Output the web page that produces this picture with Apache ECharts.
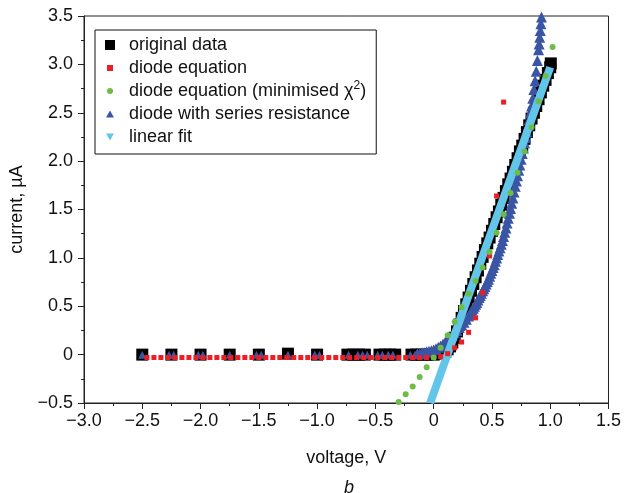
<!DOCTYPE html>
<html><head><meta charset="utf-8">
<script src="https://cdn.jsdelivr.net/npm/echarts@6/dist/echarts.min.js"></script>
<style>html,body{margin:0;padding:0;background:#fff}#c{width:624px;height:493px}</style>
</head><body><div id="c"></div>
<script>
// ---------- data ----------
const seriesNames = ['original data', 'diode equation', 'diode equation (minimised \u03c72)', 'diode with series resistance', 'linear fit'];

const xTickLabels = ['\u22123.0', '\u22122.5', '\u22122.0', '\u22121.5', '\u22121.0', '\u22120.5', '0', '0.5', '1.0', '1.5'];
const yTickLabels = ['\u22120.5', '0', '0.5', '1.0', '1.5', '2.0', '2.5', '3.0', '3.5'];

// original data (black squares)
const origV = [-2.5, -2.25, -2.0, -1.75, -1.5, -1.25, -1.0,
  -0.74, -0.69, -0.64, -0.59, -0.465, -0.42, -0.375, -0.33,
  -0.19, -0.15, -0.1, -0.05, 0, 0.05,
  0.10, 0.12, 0.14, 0.16, 0.18, 0.20, 0.22, 0.24, 0.26, 0.28, 0.30, 0.32, 0.34, 0.36, 0.38, 0.40,
  0.42, 0.44, 0.46, 0.48, 0.50, 0.52, 0.54, 0.56, 0.58, 0.60, 0.62, 0.64, 0.66, 0.68, 0.70, 0.72,
  0.74, 0.76, 0.78, 0.80, 0.82, 0.84, 0.86, 0.88, 0.90, 0.92, 0.94, 0.96, 0.98, 1.00, 1.005];
const origI = [0, 0, 0, 0, 0, 0.01, 0,
  0, 0, 0, 0, 0, 0, 0, 0,
  0, 0, 0, 0, 0, 0.01,
  0.03, 0.055, 0.085, 0.125, 0.175, 0.24, 0.31, 0.38, 0.45, 0.52, 0.59, 0.66, 0.73, 0.8, 0.87, 0.94,
  1.01, 1.08, 1.15, 1.21, 1.28, 1.35, 1.42, 1.48, 1.55, 1.62, 1.69, 1.76, 1.82, 1.89, 1.96, 2.03,
  2.1, 2.16, 2.23, 2.3, 2.37, 2.44, 2.5, 2.57, 2.64, 2.71, 2.78, 2.84, 2.91, 2.97, 3.01];

// diode equation (red squares)
const diodeV = [-2.46, -2.40, -2.34, -2.28, -2.22, -2.16, -2.10, -2.04, -1.98, -1.92, -1.86, -1.80, -1.74,
  -1.68, -1.62, -1.56, -1.50, -1.44, -1.38, -1.32, -1.26, -1.20, -1.14, -1.08, -1.02, -0.96, -0.90,
  -0.84, -0.78, -0.72, -0.66, -0.60, -0.54, -0.48, -0.42, -0.36, -0.30, -0.24, -0.18, -0.12, -0.06,
  0.00, 0.06, 0.12, 0.18, 0.24, 0.30, 0.36, 0.42, 0.48, 0.54, 0.60];
const diodeI = [-0.03, -0.03, -0.03, -0.03, -0.03, -0.03, -0.03, -0.03, -0.03, -0.03, -0.03, -0.03, -0.03,
  -0.03, -0.03, -0.03, -0.03, -0.03, -0.03, -0.03, -0.03, -0.03, -0.03, -0.03, -0.03, -0.03, -0.03,
  -0.03, -0.03, -0.03, -0.03, -0.03, -0.03, -0.03, -0.03, -0.03, -0.03, -0.03, -0.03, -0.03, -0.03,
  -0.03, -0.02, 0.01, 0.07, 0.13, 0.23, 0.38, 0.64, 1.02, 1.64, 2.61];

// diode equation, minimised chi^2 (green circles)
const chiV = [-0.30, -0.24, -0.18, -0.12, -0.06, 0.00, 0.06, 0.12, 0.18, 0.24, 0.30, 0.36,
  0.42, 0.48, 0.54, 0.60, 0.66, 0.72, 0.78, 0.84, 0.90, 0.96, 1.02];
const chiI = [-0.49, -0.41, -0.33, -0.23, -0.13, -0.03, 0.07, 0.2, 0.34, 0.49, 0.63, 0.76,
  0.9, 1.06, 1.26, 1.45, 1.67, 1.88, 2.1, 2.35, 2.62, 2.88, 3.18];

// diode with series resistance (blue triangles)
const seriesV = [-2.5, -2.27, -2.23, -2.02, -1.98, -1.75, -1.52, -1.48, -1.25, -1.02, -0.98,
  -0.73, -0.65, -0.61, -0.57, -0.48, -0.44, -0.39, -0.35, -0.2, -0.16,
  -0.14, -0.12, -0.10, -0.08, -0.06, -0.04, -0.02, 0.00, 0.02, 0.04, 0.06, 0.08, 0.10, 0.12, 0.14,
  0.16, 0.18, 0.20, 0.22, 0.24, 0.26, 0.28,
  0.30, 0.31, 0.32, 0.33, 0.34, 0.35, 0.36, 0.37, 0.38, 0.39, 0.40, 0.41, 0.42, 0.43, 0.44, 0.45,
  0.46, 0.47, 0.48, 0.49, 0.50, 0.51, 0.52, 0.53, 0.54, 0.55, 0.56, 0.57, 0.58, 0.59, 0.60, 0.61,
  0.62, 0.63, 0.64, 0.65, 0.66, 0.67, 0.68, 0.69, 0.70, 0.71, 0.72, 0.73, 0.74, 0.75, 0.76, 0.77,
  0.78, 0.79, 0.80, 0.81, 0.82, 0.83, 0.84, 0.85, 0.86, 0.87, 0.88, 0.89, 0.90, 0.905, 0.91, 0.915,
  0.92, 0.925];
const seriesI = [0, 0, 0, 0, 0, 0, 0, 0, 0, 0, 0,
  0, 0, 0, 0, 0, 0, 0, 0, 0, 0,
  0.01, 0.01, 0.02, 0.02, 0.03, 0.035, 0.04, 0.05, 0.06, 0.075, 0.09, 0.11, 0.13, 0.15, 0.18,
  0.2, 0.225, 0.25, 0.28, 0.31, 0.335, 0.365,
  0.40, 0.42, 0.44, 0.46, 0.48, 0.50, 0.52, 0.54, 0.565, 0.59, 0.61, 0.635, 0.66, 0.68, 0.705, 0.73,
  0.755, 0.78, 0.81, 0.84, 0.87, 0.90, 0.93, 0.965, 1.0, 1.035, 1.07, 1.105, 1.14, 1.18, 1.22, 1.265,
  1.31, 1.36, 1.41, 1.46, 1.51, 1.565, 1.62, 1.68, 1.74, 1.795, 1.85, 1.905, 1.96, 2.02, 2.08, 2.135,
  2.19, 2.245, 2.3, 2.365, 2.43, 2.5, 2.57, 2.65, 2.74, 2.83, 2.93, 3.04, 3.15, 3.21, 3.28, 3.35,
  3.42, 3.49];

// linear fit (cyan)
const fitV = [-0.03, 1.0];
const fitI = [-0.5, 2.97];

// ---------- chart ----------
const zip = (a, b) => a.map((v, i) => [v, b[i]]);
const colors = ['#000000', '#ee1d23', '#6cbd45', '#3b55a5', '#63c6e8'];
const fontFamily = '"Liberation Sans", Arial, Helvetica, sans-serif';
const xMin = -3, xMax = 1.5, xInt = 0.5;
const yMin = -0.5, yMax = 3.5, yInt = 0.5;

const chart = echarts.init(document.getElementById('c'), null, {renderer: 'canvas'});
const axisCommon = {
  axisLine: {show: true, onZero: false, lineStyle: {color: '#222', width: 1}},
  axisTick: {show: true, inside: false, length: 6, lineStyle: {color: '#222'}},
  minorTick: {show: true, splitNumber: 2, length: 3, lineStyle: {color: '#222'}},
  splitLine: {show: false},
  nameTextStyle: {fontSize: 18, color: '#111', fontFamily},
};
chart.setOption({
  backgroundColor: '#fff',
  animation: false,
  textStyle: {fontFamily},
  title: {
    text: 'b', left: 339, top: 474,
    textStyle: {fontSize: 18, fontStyle: 'italic', fontWeight: 'normal', color: '#111', fontFamily}
  },
  grid: {left: 83, right: 14, top: 16, bottom: 90, show: true, borderColor: '#222', borderWidth: 1, containLabel: false},
  legend: {
    orient: 'vertical', left: 95, top: 30,
    padding: [4, 10, 6, 3],
    itemWidth: 26, itemHeight: 10, itemGap: 1,
    borderColor: '#111', borderWidth: 1, backgroundColor: '#fff',
    textStyle: {fontSize: 18, color: '#111', fontFamily, lineHeight: 22,
      rich: {
        chi: {fontSize: 18, color: '#111', fontFamily},
        sup: {fontSize: 12, color: '#111', fontFamily, padding: [0, 0, 10, 0]}
      }
    },
    formatter: name => name === seriesNames[2] ? 'diode equation (minimised {chi|\u03c7}{sup|2})' : name,
    data: [
      {name: seriesNames[0], icon: 'path://M0,0M26,10M7,0h10v10h-10z'},
      {name: seriesNames[1], icon: 'path://M0,0M26,10M9,2h6v6h-6z'},
      {name: seriesNames[2], icon: 'path://M0,0M26,10M9,5a3,3 0 1,0 6,0a3,3 0 1,0 -6,0z'},
      {name: seriesNames[3], icon: 'path://M0,0M26,10M8,8.5L12,1.5L16,8.5z'},
      {name: seriesNames[4], icon: 'path://M0,0M26,10M8,1.5L16,1.5L12,8.5z'}
    ]
  },
  xAxis: Object.assign({}, axisCommon, {
    type: 'value', min: xMin, max: xMax, interval: xInt,
    name: 'voltage, V', nameLocation: 'middle', nameGap: 46,
    axisLabel: {fontSize: 18, color: '#111', margin: 9, fontFamily,
      formatter: v => xTickLabels[Math.round((v - xMin) / xInt)]}
  }),
  yAxis: Object.assign({}, axisCommon, {
    type: 'value', min: yMin, max: yMax, interval: yInt,
    name: 'current, \u00b5A', nameLocation: 'middle', nameGap: 58,
    axisLabel: {fontSize: 18, color: '#111', margin: 11, fontFamily,
      formatter: v => yTickLabels[Math.round((v - yMin) / yInt)]}
  }),
  series: [
    {name: seriesNames[0], type: 'scatter', symbol: 'rect', symbolSize: 12,
      itemStyle: {color: colors[0], opacity: 1}, data: zip(origV, origI), z: 2},
    {name: seriesNames[3], type: 'scatter', symbol: 'triangle',
      symbolSize: val => (val[0] < -0.15 ? 8 : 11),
      itemStyle: {color: colors[3], opacity: 1}, data: zip(seriesV, seriesI), z: 3},
    {name: seriesNames[4], type: 'line', showSymbol: false, symbol: 'none',
      lineStyle: {color: colors[4], width: 8, cap: 'butt'}, itemStyle: {color: colors[4]},
      data: zip(fitV, fitI), z: 4},
    {name: seriesNames[1], type: 'scatter', symbol: 'rect', symbolSize: 5,
      itemStyle: {color: colors[1], opacity: 1}, data: zip(diodeV, diodeI), z: 5},
    {name: seriesNames[2], type: 'scatter', symbol: 'circle', symbolSize: 6,
      itemStyle: {color: colors[2], opacity: 1}, data: zip(chiV, chiI), z: 6}
  ]
});
</script>
</body></html>
